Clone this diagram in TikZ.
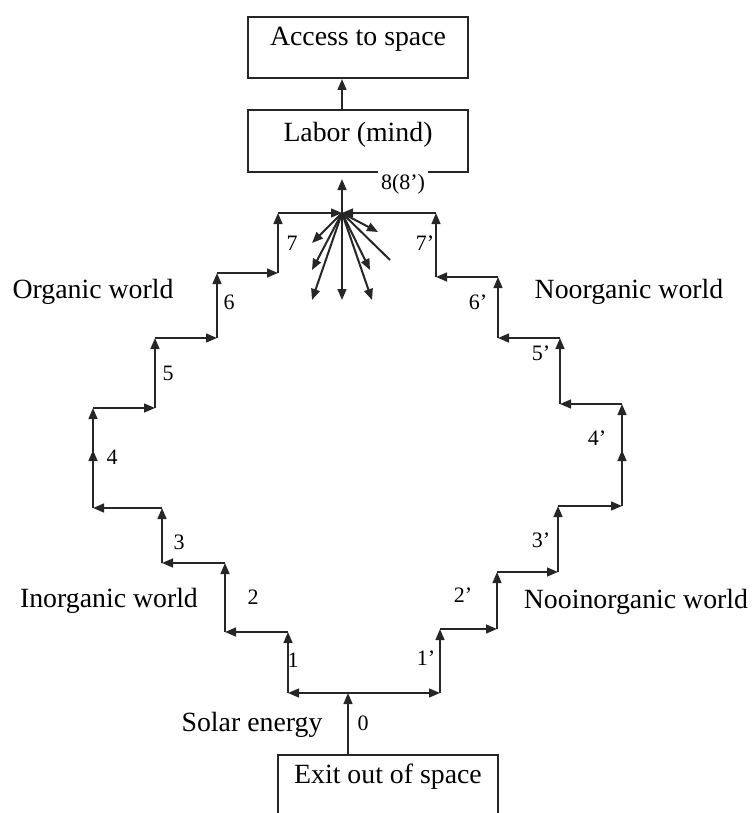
\documentclass[tikz,border=0pt]{standalone}
\usepackage{fontspec}
\setmainfont{Liberation Serif}
\usetikzlibrary{arrows.meta,calc}
\begin{document}
\begin{tikzpicture}[x=0.5pt,y=-0.5pt,
  conn/.style={draw=black!85, line width=1pt, -{Triangle[length=5.5pt,width=4.4pt]}},
  plainline/.style={draw=black!85, line width=1pt},
  box/.style={draw=black!85, line width=1pt, minimum width=110pt, inner sep=0pt, anchor=base, font=\fontsize{13.9}{16}\selectfont},
  world/.style={font=\fontsize{13.9}{16}\selectfont, inner sep=0pt},
  num/.style={font=\fontsize{11}{13}\selectfont, inner sep=0pt}]
\useasboundingbox (0,0) rectangle (752,813);
\clip (0,0) rectangle (752,813);

% boxes
\node[box, text height=14.5pt, text depth=16pt] (access) at (358,46) {Access to space};
\node[box, text height=15.5pt, text depth=15.5pt] (labor) at (358,141) {Labor (mind)};
\node[box, text height=14pt, text depth=30pt] (exit) at (388,783) {Exit out of space};

% coordinates
\coordinate (J) at (348,693);
\coordinate (C) at (342,213);
\coordinate (a1) at (288,693);
\coordinate (a2) at (288,632);
\coordinate (a3) at (225,632);
\coordinate (a4) at (225,563);
\coordinate (a5) at (162,563);
\coordinate (a6) at (162,508);
\coordinate (a7) at (93,508);
\coordinate (m4) at (93,450);
\coordinate (a8) at (93,408);
\coordinate (a9) at (155,408);
\coordinate (a10) at (155,338);
\coordinate (a11) at (217,338);
\coordinate (a12) at (217,273);
\coordinate (a13) at (278,273);
\coordinate (a14) at (278,213);
\coordinate (b1) at (440,693);
\coordinate (b2) at (440,629);
\coordinate (b3) at (497,629);
\coordinate (b4) at (497,572);
\coordinate (b5) at (558,572);
\coordinate (b6) at (558,506);
\coordinate (b7) at (622,506);
\coordinate (m4p) at (622,450);
\coordinate (b8) at (622,404);
\coordinate (b9) at (560,404);
\coordinate (b10) at (560,338);
\coordinate (b11) at (498,338);
\coordinate (b12) at (498,277);
\coordinate (b13) at (436,277);
\coordinate (b14) at (436,213);
% fan ends
\coordinate (f1) at (312,243);
\coordinate (f2) at (312,270);
\coordinate (f3) at (312,300);
\coordinate (f4) at (342,300);
\coordinate (f5) at (372,300);
\coordinate (f6) at (370,270);
\coordinate (f7) at (378,232);
\coordinate (f8) at (390,260);

% vertical connectors to boxes
\draw[conn] (labor.north -| C) -- (access.south -| C);
\draw[conn, shorten >=3pt] (C) -- (labor.south -| C);
\draw[conn] (exit.north -| J) -- (J);

% left staircase
\draw[conn] (J) -- (a1);
\draw[conn] (a1) -- (a2);
\draw[conn] (a2) -- (a3);
\draw[conn] (a3) -- (a4);
\draw[conn] (a4) -- (a5);
\draw[conn] (a5) -- (a6);
\draw[conn] (a6) -- (a7);
\draw[conn] (a7) -- (a8);
\draw[conn] (a7) -- (m4);
\draw[conn] (a8) -- (a9);
\draw[conn] (a9) -- (a10);
\draw[conn] (a10) -- (a11);
\draw[conn] (a11) -- (a12);
\draw[conn] (a12) -- (a13);
\draw[conn] (a13) -- (a14);
\draw[conn] (a14) -- (C);

% right staircase
\draw[conn] (J) -- (b1);
\draw[conn] (b1) -- (b2);
\draw[conn] (b2) -- (b3);
\draw[conn] (b3) -- (b4);
\draw[conn] (b4) -- (b5);
\draw[conn] (b5) -- (b6);
\draw[conn] (b6) -- (b7);
\draw[conn] (b7) -- (b8);
\draw[conn] (b7) -- (m4p);
\draw[conn] (b8) -- (b9);
\draw[conn] (b9) -- (b10);
\draw[conn] (b10) -- (b11);
\draw[conn] (b11) -- (b12);
\draw[conn] (b12) -- (b13);
\draw[conn] (b13) -- (b14);
\draw[conn] (b14) -- (C);

% fan
\foreach \f in {f1,f2,f3,f4,f5,f6,f7} \draw[conn] (C) -- (\f);
\draw[plainline] (C) -- (f8);

% labels
\node[num, fill=white, inner sep=1.5pt] (n8) at (403,184) {8(8’)};
\node[num] (n0) at (363,723) {0};
\node[num] (n1) at (293,660) {1};
\node[num] (n2) at (253,597) {2};
\node[num] (n3) at (179,542) {3};
\node[num] (n4) at (112,457) {4};
\node[num] (n5) at (168,373) {5};
\node[num] (n6) at (229,302) {6};
\node[num] (n7) at (292,243) {7};
\node[num] (p1) at (426,658) {1’};
\node[num] (p2) at (463,595) {2’};
\node[num] (p3) at (541,540) {3’};
\node[num] (p4) at (597,438) {4’};
\node[num] (p5) at (541,353) {5’};
\node[num] (p6) at (478,302) {6’};
\node[num] (p7) at (425,243) {7’};

\node[world] (organic) at (93,292) {Organic world};
\node[world] (noorganic) at (629,292) {Noorganic world};
\node[world] (inorganic) at (109,601) {Inorganic world};
\node[world] (nooinorganic) at (636,602) {Nooinorganic world};
\node[world] (solar) at (252,725) {Solar energy};
\end{tikzpicture}
\end{document}
